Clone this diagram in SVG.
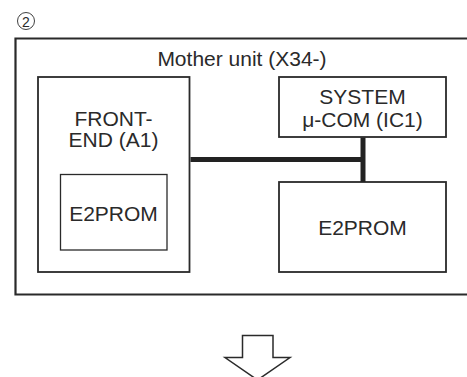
<svg xmlns="http://www.w3.org/2000/svg" width="467" height="377" viewBox="0 0 467 377">
<style>
text{font-family:"Liberation Sans",Arial,sans-serif;font-size:21px;fill:#2a2a2a;text-anchor:middle}
.box{fill:#fff;stroke:#2a2a2a}
</style>
<rect width="467" height="377" fill="#fff"/>
<g id="label-2">
<circle cx="26" cy="21" r="8.5" fill="none" stroke="#2a2a2a" stroke-width="0.9"/>
<text x="26" y="26.5" style="font-size:14px">2</text>
</g>
<g id="mother-unit">
<path d="M470 38.5H15.5V294.5H470" class="box" stroke-width="2.2" fill="none"/>
<text x="242" y="66">Mother unit (X34-)</text>
</g>
<g id="front-end">
<rect x="38" y="77" width="151.5" height="195" class="box" stroke-width="1.8"/>
<text x="113.5" y="126">FRONT-</text>
<text x="113.5" y="147">END (A1)</text>
</g>
<g id="e2prom-inner">
<rect x="60.5" y="174.5" width="106.5" height="75.5" class="box" stroke-width="1.3"/>
<text x="113.5" y="221">E2PROM</text>
</g>
<g id="system-com">
<rect x="279" y="77" width="167" height="60" class="box" stroke-width="1.8"/>
<text x="362.5" y="104">SYSTEM</text>
<text x="362.5" y="127">μ-COM (IC1)</text>
</g>
<g id="e2prom-right">
<rect x="279" y="182" width="167" height="90" class="box" stroke-width="1.8"/>
<text x="362.5" y="235">E2PROM</text>
</g>
<g id="connectors" stroke="#222" stroke-width="5" fill="none">
<path d="M190.5 159.5H363"/>
<path d="M363 137.5V182"/>
</g>
<g id="down-arrow">
<path d="M242.5 335.5H273V357.5H290L257.5 380L225 357.5H242.5Z" fill="#fff" stroke="#2a2a2a" stroke-width="1.5" stroke-linejoin="miter"/>
</g>
</svg>
